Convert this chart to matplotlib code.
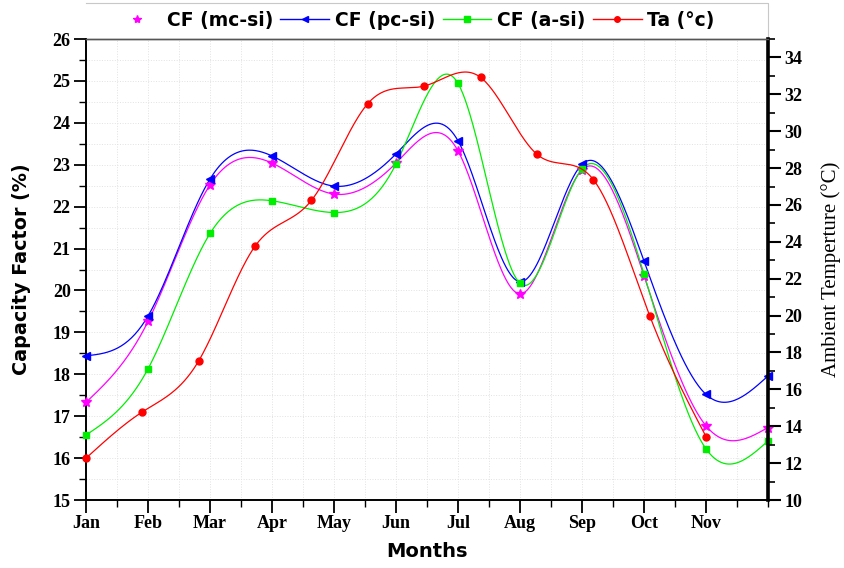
import numpy as np
import matplotlib
matplotlib.use("Agg")
import matplotlib.pyplot as plt
from matplotlib.lines import Line2D
from matplotlib.ticker import MultipleLocator

months = ["Jan", "Feb", "Mar", "Apr", "May", "Jun", "Jul", "Aug", "Sep", "Oct", "Nov"]

# capacity factor (%) Jan..Dec
cf_mc = [17.33, 19.26, 22.52, 23.04, 22.30, 23.04, 23.33, 19.92, 22.88, 20.35, 16.77, 16.73]
cf_pc = [18.44, 19.39, 22.66, 23.21, 22.49, 23.26, 23.57, 20.21, 23.01, 20.70, 17.52, 17.96]
cf_a = [16.55, 18.13, 21.36, 22.14, 21.86, 23.02, 24.94, 20.17, 22.90, 20.39, 16.22, 16.41]
# ambient temperature (degC), 12 readings drawn across Jan..Nov
ta = [12.27, 14.78, 17.55, 23.77, 26.25, 31.50, 32.45, 32.92, 28.75, 27.38, 20.00, 13.44]


def natural_spline(x, y, xs):
    x = np.asarray(x, float)
    y = np.asarray(y, float)
    n = len(x)
    h = np.diff(x)
    A = np.zeros((n, n))
    r = np.zeros(n)
    A[0, 0] = A[-1, -1] = 1
    for i in range(1, n - 1):
        A[i, i - 1] = h[i - 1]
        A[i, i] = 2 * (h[i - 1] + h[i])
        A[i, i + 1] = h[i]
        r[i] = 3 * ((y[i + 1] - y[i]) / h[i] - (y[i] - y[i - 1]) / h[i - 1])
    c = np.linalg.solve(A, r)
    b = (y[1:] - y[:-1]) / h - h * (2 * c[:-1] + c[1:]) / 3
    d = (c[1:] - c[:-1]) / (3 * h)
    idx = np.clip(np.searchsorted(x, xs) - 1, 0, n - 2)
    dx = xs - x[idx]
    return y[idx] + b[idx] * dx + c[idx] * dx ** 2 + d[idx] * dx ** 3


x_cf = np.arange(len(cf_mc))
x_ta = np.linspace(0, len(months) - 1, len(ta))
xs_cf = np.linspace(x_cf[0], x_cf[-1], 600)
xs_ta = np.linspace(x_ta[0], x_ta[-1], 600)

fig = plt.figure(figsize=(8.45, 5.68), dpi=100)
ax = fig.add_axes([0.1018, 0.1197, 0.8071, 0.8116])
ax2 = ax.twinx()

serif_bold = dict(family="Liberation Serif", weight="bold", size=13)

series = [
    (cf_mc, "#FF00FF", "*", 7, "CF (mc-si)"),
    (cf_pc, "#0000FF", "<", 6, "CF (pc-si)"),
    (cf_a, "#00EE00", "s", 5, "CF (a-si)"),
]
for vals, col, mk, ms, lab in series:
    ax.plot(xs_cf, natural_spline(x_cf, vals, xs_cf), color=col, lw=0.9, zorder=3)
    ax.plot(x_cf, vals, linestyle="none", marker=mk, color=col, ms=ms, zorder=4, clip_on=False)

ax2.plot(xs_ta, natural_spline(x_ta, ta, xs_ta), color="#FF0000", lw=0.9, zorder=3)
ax2.plot(x_ta, ta, linestyle="none", marker="o", color="#FF0000", ms=5, zorder=4, clip_on=False)

ax.set_xlim(0, 11)
ax.set_ylim(15, 26)
ax2.set_ylim(10, 35)

ax.set_xticks(range(len(months)))
ax.set_xticklabels(months, fontdict=serif_bold)
ax.xaxis.set_minor_locator(MultipleLocator(0.5))
ax.yaxis.set_major_locator(MultipleLocator(1))
ax.yaxis.set_minor_locator(MultipleLocator(0.5))
ax2.yaxis.set_major_locator(MultipleLocator(2))
ax2.yaxis.set_minor_locator(MultipleLocator(1))
for a in (ax, ax2):
    for lab in a.get_yticklabels():
        lab.set_family("Liberation Serif")
        lab.set_weight("bold")
        lab.set_size(13)

ax.tick_params(which="major", direction="out", length=9, width=1.3, pad=2)
ax.tick_params(which="minor", direction="out", length=5, width=1.0)
ax2.tick_params(which="major", direction="out", length=9, width=1.5, pad=3)
ax2.tick_params(which="minor", direction="out", length=5, width=1.2)

ax.grid(which="both", color="#E2E2E2", linestyle=":", linewidth=0.7)
ax.set_axisbelow(True)

for s in ("left", "bottom"):
    ax.spines[s].set_linewidth(1.4)
ax2.spines["right"].set_linewidth(2.6)
ax2.spines["left"].set_visible(False)
ax2.spines["bottom"].set_visible(False)
for a in (ax, ax2):
    a.spines["top"].set_color("#555555")
    a.spines["top"].set_linewidth(1.0)

ax.set_xlabel("Months", family="DejaVu Sans", weight="bold", size=14, labelpad=7)
ax.set_ylabel("Capacity Factor (%)", family="DejaVu Sans", weight="bold", size=13.8, labelpad=16)
ax2.set_ylabel("Ambient Temperture (°C)", family="Liberation Serif", size=15, labelpad=13)

handles = [
    Line2D([], [], color="#FF00FF", marker="*", linestyle="none", ms=6),
    Line2D([], [], color="#0000FF", marker="<", lw=1, ms=5),
    Line2D([], [], color="#00EE00", marker="s", lw=1, ms=4),
    Line2D([], [], color="#FF0000", marker="o", lw=1, ms=4),
]
labels = ["CF (mc-si)", "CF (pc-si)", "CF (a-si)", "Ta (°c)"]
ax2.legend(handles, labels, loc="center", bbox_to_anchor=(0.48, 1.041), ncol=4, frameon=False,
           prop=dict(family="DejaVu Sans", weight="bold", size=13.5), handlelength=2.6,
           columnspacing=0.4, handletextpad=0.3)
ax2.plot([0, 1, 1], [1.078, 1.078, 1.0], transform=ax2.transAxes, color="#C8C8C8",
         lw=0.8, clip_on=False)

fig.savefig("out.png", dpi=100)
